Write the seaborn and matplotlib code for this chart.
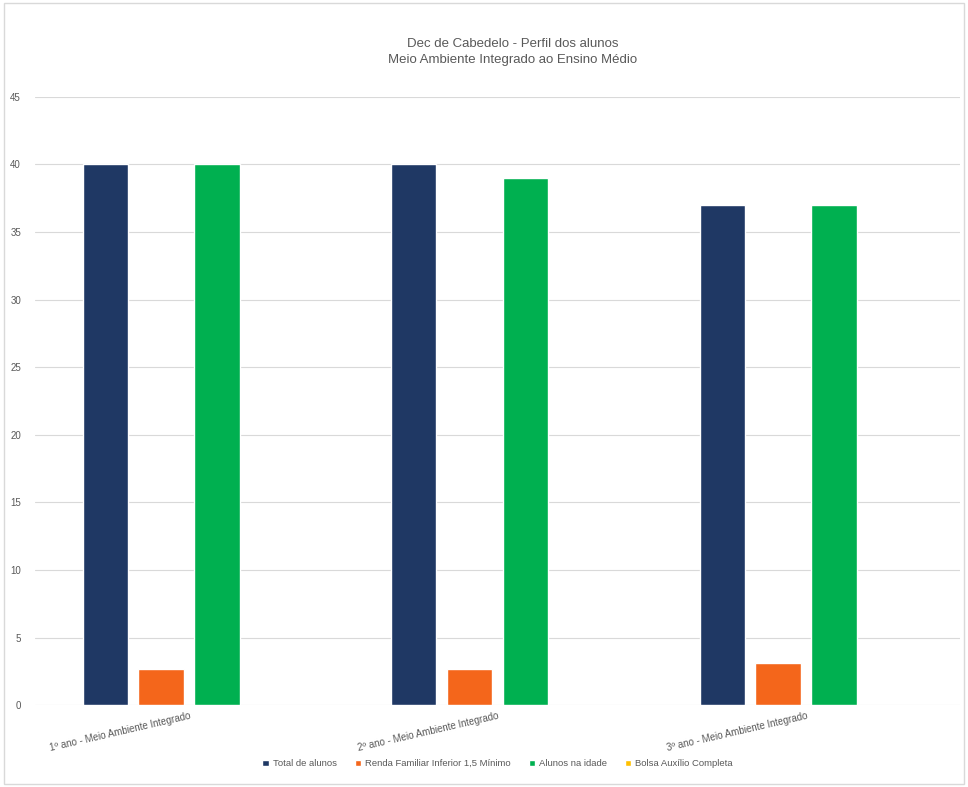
import matplotlib
matplotlib.use("Agg")
import matplotlib.pyplot as plt
import seaborn as sns
import pandas as pd

# data
turmas = [
    "1º ano - Meio Ambiente Integrado",
    "2º ano - Meio Ambiente Integrado",
    "3º ano - Meio Ambiente Integrado",
]
series = [
    "Total de alunos",
    "Renda Familiar Inferior 1,5 Mínimo",
    "Alunos na idade",
    "Bolsa Auxílio Completa",
]
total_alunos = [40, 40, 37]
renda_familiar = [2.7, 2.7, 3.1]
alunos_idade = [40, 39, 37]
bolsa_auxilio = [0, 0, 0]
colors = ["#1F3864", "#F4661B", "#00B050", "#FFC000"]

values = [total_alunos, renda_familiar, alunos_idade, bolsa_auxilio]
rows = []
for s, vals in zip(series, values):
    for t, v in zip(turmas, vals):
        rows.append({"turma": t, "serie": s, "valor": v})
df = pd.DataFrame(rows)

sns.set_theme(style="white")
plt.rcParams["font.family"] = ["Liberation Sans", "DejaVu Sans"]

fig = plt.figure(figsize=(9.68, 7.87), dpi=100)
ax = fig.add_axes([0.036, 0.104, 0.956, 0.773])

sns.barplot(data=df, x="turma", y="valor", hue="serie", hue_order=series,
            palette=colors, width=0.725, gap=0.19, saturation=1,
            errorbar=None, ax=ax, zorder=3)

ax.set_ylim(0, 45)
ax.set_yticks(range(0, 46, 5))
ax.yaxis.grid(True, color="#D9D9D9", linewidth=0.8, zorder=0)
ax.set_xlabel("")
ax.set_ylabel("")
for sp in ax.spines.values():
    sp.set_visible(False)
ax.tick_params(axis="y", labelsize=7, colors="#595959", length=0, pad=10)
ax.tick_params(axis="x", labelsize=7, colors="#595959", length=0, pad=4)
plt.setp(ax.get_xticklabels(), rotation=13, ha="right", rotation_mode="anchor")

fig.text(0.53, 0.934, "Dec de Cabedelo - Perfil dos alunos\nMeio Ambiente Integrado ao Ensino Médio",
         ha="center", va="center", fontsize=9.5, color="#595959", linespacing=1.5)

leg = ax.legend(loc="upper center", bbox_to_anchor=(0.5, -0.075), ncol=4,
                frameon=False, fontsize=6.8, handlelength=0.7, handleheight=0.7,
                columnspacing=1.9, handletextpad=0.4)
for txt in leg.get_texts():
    txt.set_color("#595959")

fig.patches.append(plt.Rectangle((0.004, 0.004), 0.992, 0.992, transform=fig.transFigure,
                                 fill=False, edgecolor="#D9D9D9", linewidth=1))

fig.savefig("out.png", dpi=100)
